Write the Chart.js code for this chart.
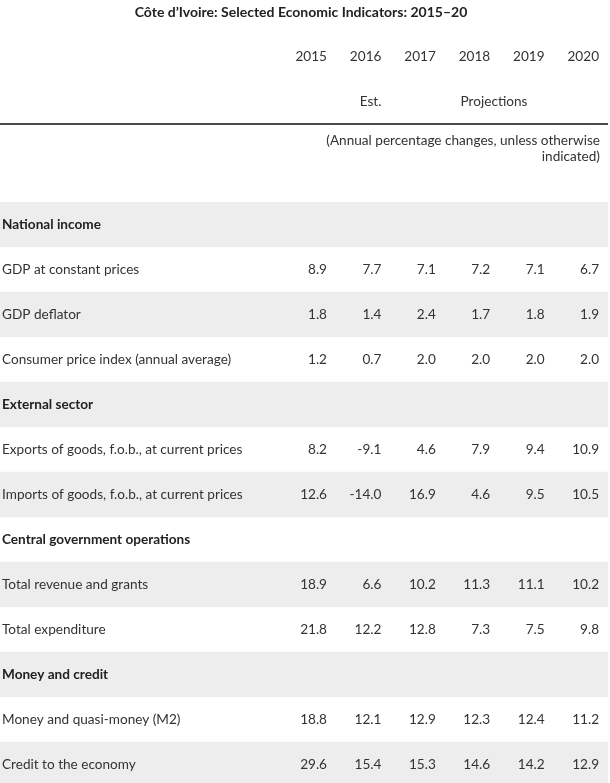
<!DOCTYPE html>
<html>
<head>
<meta charset="utf-8">
<script src="https://cdn.jsdelivr.net/npm/chart.js@4.4.1/dist/chart.umd.min.js"></script>
<style>
  html, body { margin: 0; padding: 0; background: #fff; overflow: hidden; }
  canvas { display: block; }
</style>
</head>
<body>
<canvas id="tableChart" width="610" height="787"></canvas>
<script>
var years = ['2015', '2016', '2017', '2018', '2019', '2020'];

var rowLabels = [
	'National income',
	'GDP at constant prices',
	'GDP deflator',
	'Consumer price index (annual average)',
	'External sector',
	'Exports of goods, f.o.b., at current prices',
	'Imports of goods, f.o.b., at current prices',
	'Central government operations',
	'Total revenue and grants',
	'Total expenditure',
	'Money and credit',
	'Money and quasi-money (M2)',
	'Credit to the economy'
];

// section header rows have no values
var gdpConstant = [8.9, 7.7, 7.1, 7.2, 7.1, 6.7];
var gdpDeflator = [1.8, 1.4, 2.4, 1.7, 1.8, 1.9];
var cpi         = [1.2, 0.7, 2.0, 2.0, 2.0, 2.0];
var exportsFob  = [8.2, -9.1, 4.6, 7.9, 9.4, 10.9];
var importsFob  = [12.6, -14.0, 16.9, 4.6, 9.5, 10.5];
var revenue     = [18.9, 6.6, 10.2, 11.3, 11.1, 10.2];
var expenditure = [21.8, 12.2, 12.8, 7.3, 7.5, 9.8];
var moneyM2     = [18.8, 12.1, 12.9, 12.3, 12.4, 11.2];
var creditEcon  = [29.6, 15.4, 15.3, 14.6, 14.2, 12.9];

var rowValues = [
	null, gdpConstant, gdpDeflator, cpi,
	null, exportsFob, importsFob,
	null, revenue, expenditure,
	null, moneyM2, creditEcon
];

var xMin = -6.01, xMax = 5.165;
var fontName = 'Lato, "Open Sans", sans-serif';
var textColor = '#333';

var tableText = {
	id: 'tableText',
	afterDatasetsDraw: function(chart){
		var ctx = chart.ctx,
			x = chart.scales.x,
			y = chart.scales.y,
			top = chart.chartArea.top;

		ctx.save();
		ctx.fillStyle = textColor;
		ctx.textBaseline = 'middle';

		// title
		ctx.font = 'bold 14px ' + fontName;
		ctx.fillStyle = '#222';
		ctx.textAlign = 'center';
		ctx.fillText('C\u00f4te d\u2019Ivoire: Selected Economic Indicators: 2015\u201320', 301, 12);

		// years, right aligned on the value columns
		ctx.font = '13.6px ' + fontName;
		ctx.fillStyle = textColor;
		ctx.textAlign = 'right';
		years.forEach(function(yr, i){
			ctx.fillText(yr, x.getPixelForValue(i), top - 145);
		});
		ctx.fillText('Est.', x.getPixelForValue(1), top - 100);
		ctx.textAlign = 'center';
		ctx.fillText('Projections', x.getPixelForValue(3.07), top - 100);

		// rule
		ctx.strokeStyle = '#111';
		ctx.lineWidth = 1.5;
		ctx.beginPath();
		ctx.moveTo(chart.chartArea.left, top - 78);
		ctx.lineTo(chart.chartArea.right, top - 78);
		ctx.stroke();

		ctx.textAlign = 'right';
		ctx.fillText('(Annual percentage changes, unless otherwise', x.getPixelForValue(xMax) - 8, top - 61);
		ctx.fillText('indicated)', x.getPixelForValue(xMax) - 8, top - 45);

		// rows
		rowLabels.forEach(function(label, r){
			var py = y.getPixelForValue(r);
			var vals = rowValues[r];
			ctx.textAlign = 'left';
			if(!vals){
				ctx.font = 'bold 13.6px ' + fontName;
				ctx.fillStyle = '#222';
				ctx.fillText(label, 2, py);
				return;
			}
			ctx.font = '13.6px ' + fontName;
			ctx.fillStyle = textColor;
			ctx.fillText(label, 2, py);
			ctx.textAlign = 'right';
			vals.forEach(function(v, i){
				ctx.fillText(v.toFixed(1), x.getPixelForValue(i), py);
			});
		});
		ctx.restore();
	}
};

var ctx = document.getElementById('tableChart').getContext('2d');
var tableChart = new Chart(ctx, {
	type: 'bar',
	data: {
		labels: rowLabels,
		datasets: [{
			// shaded bands on every other row
			data: rowLabels.map(function(l, i){ return (i % 2 === 0) ? [xMin, xMax] : null; }),
			backgroundColor: '#ededed',
			borderWidth: 0,
			barPercentage: 1,
			categoryPercentage: 1
		}]
	},
	options: {
		indexAxis: 'y',
		responsive: false,
		animation: false,
		devicePixelRatio: 1,
		layout: { padding: { top: 202, left: 0, right: 2, bottom: 0 } },
		scales: {
			x: { type: 'linear', min: xMin, max: xMax, display: false },
			y: { type: 'category', display: false, offset: true }
		},
		plugins: {
			legend: { display: false },
			tooltip: { enabled: false },
			title: { display: false }
		}
	},
	plugins: [tableText]
});
</script>
</body>
</html>
